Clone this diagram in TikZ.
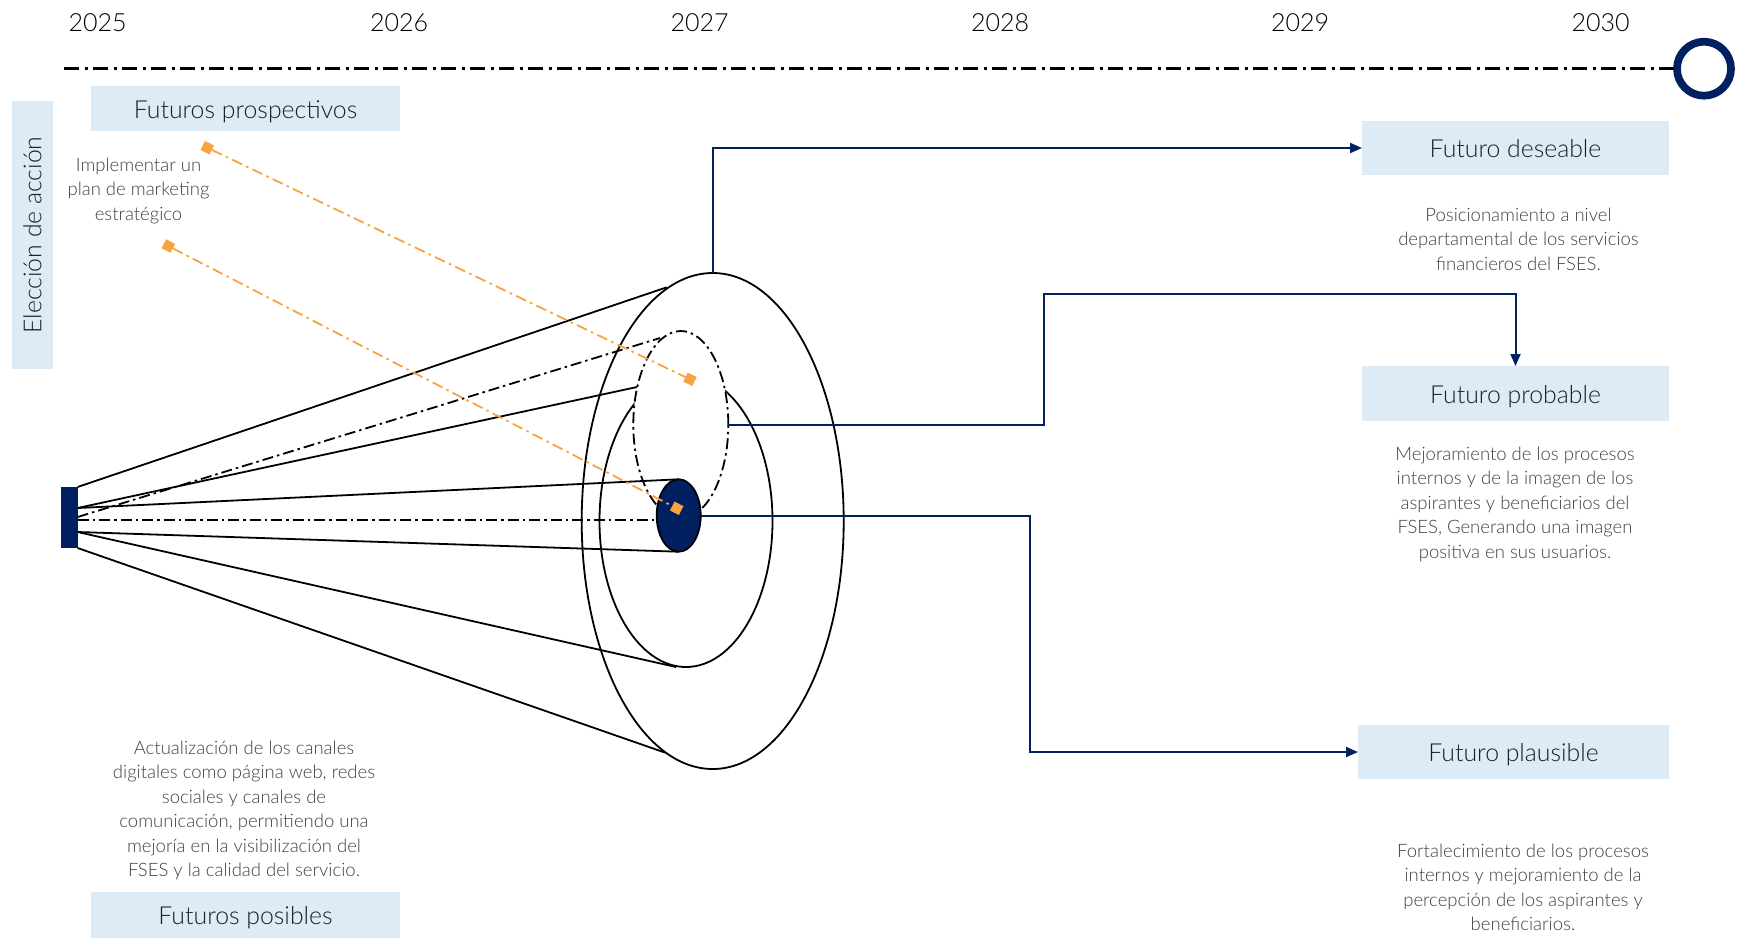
\documentclass[tikz,border=0pt]{standalone}
\usepackage{fontspec}
\setmainfont{Lato Light}
\usetikzlibrary{arrows.meta,shapes.geometric}
\definecolor{navy}{RGB}{0,32,96}
\definecolor{paleblue}{RGB}{221,235,247}
\definecolor{accent}{RGB}{247,163,64}
\definecolor{bodytext}{RGB}{64,64,64}
\definecolor{headtext}{RGB}{30,30,30}

\begin{document}
\begin{tikzpicture}[x=1pt,y=-1pt,
  hdr/.style={fill=paleblue, text=headtext, font=\fontsize{24.8}{29}\selectfont, inner sep=0pt, outer sep=0pt},
  hdrlow/.style={hdr, text height=22pt, text depth=2.5pt},
  note/.style={align=center, text=bodytext, font=\fontsize{18.5}{24.5}\selectfont, inner sep=0pt},
  year/.style={font=\fontsize{25}{29}\selectfont, text=black},
  outline/.style={draw=black, line width=1.8pt},
  dashdot/.style={dash pattern=on 11pt off 4pt on 2.5pt off 4pt},
  timeline/.style={draw=black, line width=2.5pt, dash pattern=on 15pt off 5.5pt on 3pt off 5.5pt},
  link/.style={draw=navy, line width=2pt},
  tip/.style={-{Triangle[length=12pt,width=10pt]}},
  ray/.style={draw=accent, line width=1.8pt, dash pattern=on 11pt off 4.5pt on 2.5pt off 4.5pt},
  marker/.style={fill=accent, minimum size=10pt, inner sep=0pt, outer sep=0pt},
  ring/.style={ellipse, inner sep=0pt, outer sep=0pt}
]
\useasboundingbox (0,0) rectangle (1738,938);
\fill[white] (0,0) rectangle (1738,938);

% years along the top
\node[year] (y2025) at (97.5,23) {2025};
\node[year] (y2026) at (399,23) {2026};
\node[year] (y2027) at (699.5,23) {2027};
\node[year] (y2028) at (1000,23) {2028};
\node[year] (y2029) at (1300,23) {2029};
\node[year] (y2030) at (1600.5,23) {2030};

% time axis ending in a ring
\node[circle, draw=navy, line width=7.7pt, minimum size=54pt, inner sep=0pt, outer sep=0pt] (endmark) at (1704,68.7) {};
\coordinate (tstart) at (64,68.7);
\draw[timeline] (tstart) -- (endmark.west);

% label boxes
\node[hdrlow, minimum width=309pt, minimum height=45pt] (prosp) at (245.5,108.75) {Futuros prospectivos};
\node[hdr, minimum width=268pt, minimum height=41pt, rotate=90] (accion) at (32.5,235) {Elección de acción};
\node[hdrlow, minimum width=307pt, minimum height=54pt] (deseable) at (1515.5,148) {Futuro deseable};
\node[hdrlow, minimum width=307pt, minimum height=55pt] (probable) at (1515.5,393.5) {Futuro probable};
\node[hdrlow, minimum width=311pt, minimum height=54pt] (plausible) at (1513.5,752) {Futuro plausible};
\node[hdrlow, minimum width=309pt, minimum height=46pt] (posibles) at (245.5,915) {Futuros posibles};

% descriptions
\node[note] (txtplan) at (138.5,190.5) {Implementar un\\plan de marketing\\estratégico};
\node[note] (txtcanales) at (244,810.5) {Actualización de los canales\\digitales como página web, redes\\sociales y canales de\\comunicación, permitiendo una\\mejoría en la visibilización del\\FSES y la calidad del servicio.};
\node[note] (txtdeseable) at (1518.5,239) {Posicionamiento a nivel\\departamental de los servicios\\financieros del FSES.};
\node[note] (txtprobable) at (1515,504) {Mejoramiento de los procesos\\internos y de la imagen de los\\aspirantes y beneficiarios del\\FSES, Generando una imagen\\positiva en sus usuarios.};
\node[note] (txtplausible) at (1523,887.5) {Fortalecimiento de los procesos\\internos y mejoramiento de la\\percepción de los aspirantes y\\beneficiarios.};

% cone of futures: outer and middle rays
\draw[outline] (77.6,487) -- (666.7,287.3);
\draw[outline] (77.6,548) -- (665,752.6);
\draw[outline] (77.6,508) -- (637,387);
\draw[outline] (77.6,532) -- (676,667);

% outer and middle rings
\node[ring, outline, minimum width=262pt, minimum height=496pt] (outer) at (712.7,521) {};
\node[ring, outline, minimum width=173pt, minimum height=292pt] (middle) at (686,521) {};

% inner dash-dotted ring covering the middle ring
\node[ring, draw=black, fill=white, line width=1.8pt, dashdot, minimum width=95pt, minimum height=187pt] (dashring) at (680.8,424.5) {};
\draw[outline, dashdot] (77.6,517) -- (660,338);

% central cylinder
\draw[outline] (77.6,508) -- (678.7,479.3);
\draw[outline] (77.6,532) -- (678.7,551.7);
\draw[outline, dashdot] (77.6,520) -- (656.7,520);
\node[ring, draw=black, fill=navy, line width=1.8pt, minimum width=44pt, minimum height=72.4pt] (core) at (678.7,515.5) {};

% origin block
\node[fill=navy, minimum width=16.6pt, minimum height=61pt, inner sep=0pt, outer sep=0pt] (src) at (69.3,517.5) {};

% prospective rays
\node[marker, rotate=-25.6] (m1a) at (207.3,147.7) {};
\node[marker, rotate=-25.6] (m1b) at (690,379.3) {};
\node[marker, rotate=-27.3] (m2a) at (168.3,246) {};
\node[marker, rotate=-27.3] (m2b) at (676.7,508.3) {};
\draw[ray] (m1a) -- (m1b);
\draw[ray] (m2a) -- (m2b);

% links to the three futures
\draw[link, tip] (outer.north) |- (deseable.west);
\coordinate (bendA) at (1044,293.7);
\draw[link, tip] (dashring.east) -| (bendA) -| (probable.north);
\coordinate (bendB) at (1029.7,752);
\draw[link, tip] (core.east) -| (bendB) -- (plausible.west);
\end{tikzpicture}
\end{document}
